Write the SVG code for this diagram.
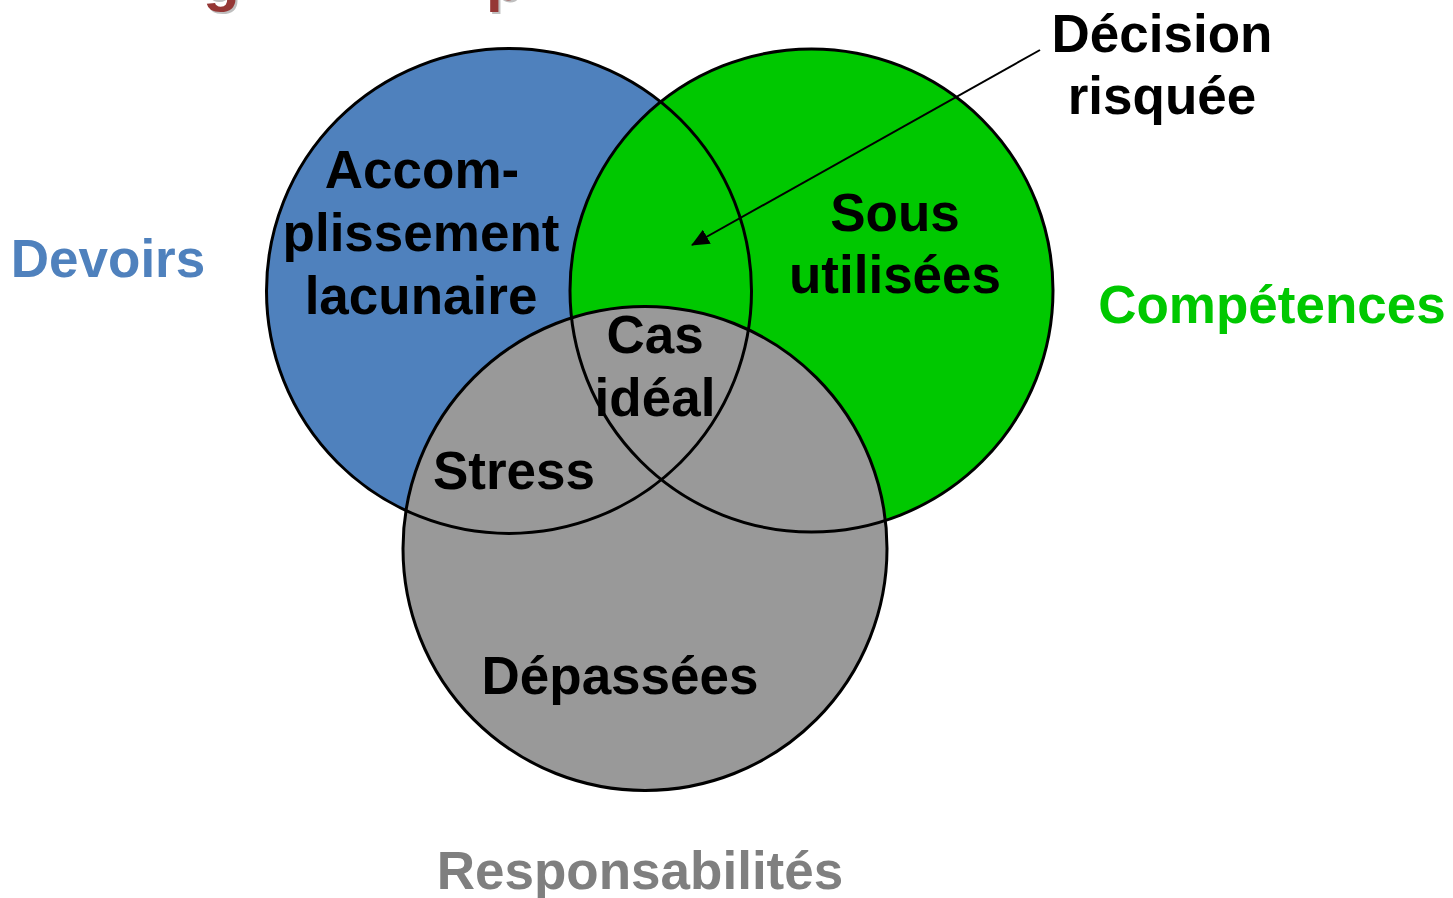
<svg xmlns="http://www.w3.org/2000/svg" width="1453" height="898" viewBox="0 0 1453 898">
<style>
.t{font-family:"Liberation Sans",Arial,sans-serif;font-weight:bold;font-size:53px;text-anchor:middle;fill:#000}
.t.blue{fill:#4f81bd}
.t.green{fill:#00c800}
.t.grey{fill:#7f7f7f}
.c{stroke:#000;stroke-width:3;fill:none}
.h{font-family:"Liberation Sans",Arial,sans-serif;font-weight:bold;font-size:60px}
</style>
<defs>
<marker id="ah" markerWidth="18" markerHeight="16" refX="17" refY="8" orient="auto" markerUnits="userSpaceOnUse" viewBox="0 0 18 16">
<path d="M0,0 L18,8 L0,16 z" fill="#000"/>
</marker>
</defs>
<rect width="1453" height="898" fill="#fff"/>
<g id="title">
<text class="h" x="205" y="2" fill="#bfbfbf">g</text>
<text class="h" x="203" y="0" fill="#953735">g</text>
<text class="h" x="488" y="2" fill="#bfbfbf">p</text>
<text class="h" x="486" y="0" fill="#953735">p</text>
</g>
<g id="fills">
<circle cx="509" cy="291" r="242.5" fill="#4f81bd"/>
<circle cx="811.5" cy="290.5" r="241.5" fill="#00c800"/>
<circle cx="645" cy="548.5" r="242" fill="#999999"/>
</g>
<g id="outlines">
<circle id="devoirs-circle" class="c" cx="509" cy="291" r="242.5"/>
<circle id="competences-circle" class="c" cx="811.5" cy="290.5" r="241.5"/>
<circle id="responsabilites-circle" class="c" cx="645" cy="548.5" r="242"/>
</g>
<g id="connectors">
<line x1="1040" y1="50" x2="692" y2="245" stroke="#000" stroke-width="2" marker-end="url(#ah)"/>
</g>
<g id="labels">
<g id="accomplissement"><text class="t" x="422" y="188">Accom-</text><text class="t" x="421" y="251">plissement</text><text class="t" x="421" y="314">lacunaire</text></g>
<g id="sous"><text class="t" x="895" y="231">Sous</text><text class="t" x="895" y="293">utilisées</text></g>
<g id="cas"><text class="t" x="655" y="353">Cas</text><text class="t" x="655" y="416">idéal</text></g>
<g id="stress"><text class="t" x="514" y="489">Stress</text></g>
<g id="depassees"><text class="t" x="620" y="694">Dépassées</text></g>
<g id="decision"><text class="t" x="1162" y="52">Décision</text><text class="t" x="1162" y="114">risquée</text></g>
<g id="devoirs"><text class="t blue" x="108" y="277">Devoirs</text></g>
<g id="competences"><text class="t green" x="1272" y="323">Compétences</text></g>
<g id="responsabilites"><text class="t grey" x="640" y="889">Responsabilités</text></g>
</g>
</svg>
